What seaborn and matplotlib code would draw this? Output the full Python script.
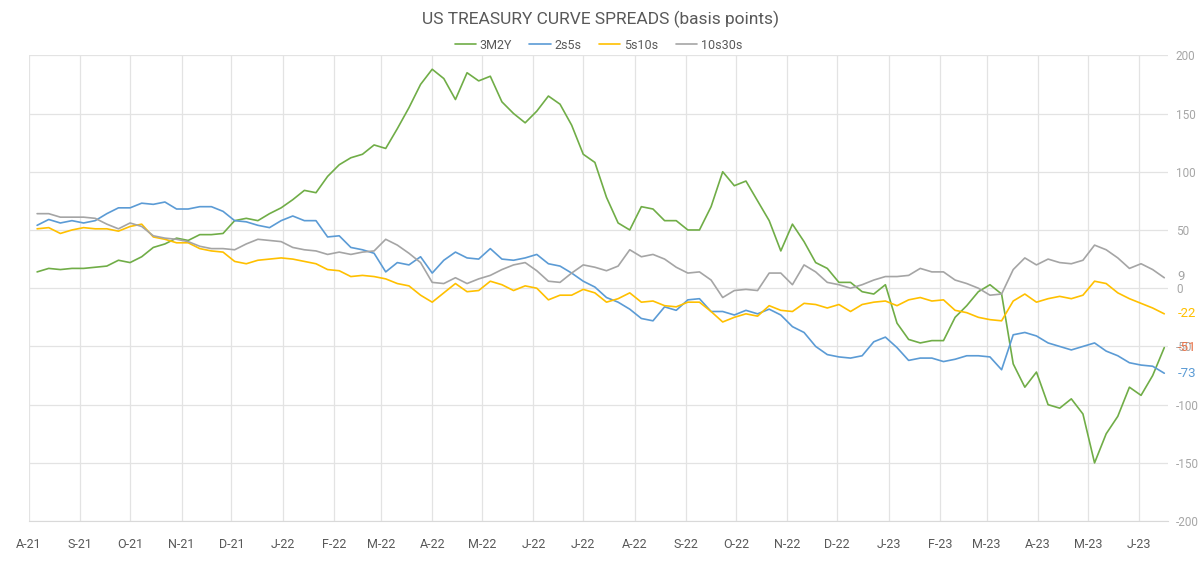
import numpy as np
import pandas as pd
import matplotlib
matplotlib.use("Agg")
import matplotlib.pyplot as plt
import matplotlib.dates as mdates
from matplotlib.ticker import FuncFormatter
import seaborn as sns

# weekly readings (Fridays), Aug 2021 - Jun 2023, in basis points
dates = pd.date_range("2021-08-06", periods=98, freq="7D")

s3m2y = [14, 17, 16, 17, 17, 18, 19, 24, 22, 27,
         35, 38, 43, 41, 46, 46, 47, 58, 60, 58,
         64, 69, 76, 84, 82, 96, 106, 112, 115, 123,
         120, 137, 155, 175, 188, 180, 162, 185, 178, 182,
         160, 150, 142, 152, 165, 158, 140, 115, 108, 78,
         56, 50, 70, 68, 58, 58, 50, 50, 70, 100,
         88, 92, 75, 58, 32, 55, 40, 22, 17, 5,
         5, -3, -5, 3, -30, -44, -47, -45, -45, -25,
         -15, -3, 3, -5, -65, -85, -72, -100, -103, -95,
         -108, -150, -125, -110, -85, -92, -75, -51]

s2s5s = [54, 59, 56, 58, 56, 58, 64, 69, 69, 73,
         72, 74, 68, 68, 70, 70, 66, 58, 57, 54,
         52, 58, 62, 58, 58, 44, 45, 35, 33, 30,
         14, 22, 20, 27, 13, 24, 31, 26, 25, 34,
         25, 24, 26, 29, 21, 19, 13, 6, 1, -8,
         -12, -18, -26, -28, -16, -19, -10, -9, -20, -20,
         -23, -19, -22, -18, -23, -33, -38, -50, -57, -59,
         -60, -58, -46, -42, -51, -62, -60, -60, -63, -61,
         -58, -58, -59, -70, -40, -38, -41, -47, -50, -53,
         -50, -47, -54, -58, -64, -66, -67, -73]

s5s10s = [51, 52, 47, 50, 52, 51, 51, 49, 53, 55,
          44, 42, 39, 39, 34, 32, 31, 23, 21, 24,
          25, 26, 25, 23, 21, 16, 15, 10, 11, 10,
          8, 4, 2, -6, -12, -4, 4, -3, -2, 6,
          3, -2, 2, 0, -10, -6, -6, -1, -4, -12,
          -9, -4, -12, -11, -15, -16, -12, -12, -20, -29,
          -25, -22, -24, -15, -19, -20, -13, -14, -17, -14,
          -20, -14, -12, -11, -15, -10, -8, -11, -10, -19,
          -21, -25, -27, -28, -11, -5, -12, -9, -7, -9,
          -6, 6, 4, -4, -9, -13, -17, -22]

s10s30s = [64, 64, 61, 61, 61, 60, 55, 51, 56, 53,
           45, 43, 42, 40, 36, 34, 34, 33, 38, 42,
           41, 40, 35, 33, 32, 29, 31, 29, 31, 32,
           42, 37, 30, 22, 5, 4, 9, 4, 8, 11,
           16, 20, 22, 15, 6, 5, 13, 20, 18, 15,
           19, 33, 27, 29, 25, 18, 13, 14, 7, -8,
           -2, -1, -2, 13, 13, 3, 20, 14, 5, 3,
           0, 3, 7, 10, 10, 11, 17, 14, 14, 7,
           4, 0, -6, -5, 16, 26, 20, 25, 22, 21,
           24, 37, 33, 26, 17, 21, 16, 9]

series_names = ["3M2Y", "2s5s", "5s10s", "10s30s"]
colors = ["#70AD47", "#5B9BD5", "#FFC000", "#A5A5A5"]
label_colors = ["#E8744A", "#5B9BD5", "#FFC000", "#A5A5A5"]

df = pd.DataFrame({"date": dates, "3M2Y": s3m2y, "2s5s": s2s5s,
                   "5s10s": s5s10s, "10s30s": s10s30s})
long = df.melt(id_vars="date", var_name="spread", value_name="bp")

sns.set_style("white")
plt.rcParams["font.family"] = ["Roboto", "DejaVu Sans"]
plt.rcParams["axes.unicode_minus"] = False

fig = plt.figure(figsize=(12, 5.64), dpi=100)
ax = fig.add_axes([0.024, 0.076, 0.949, 0.826])

sns.lineplot(data=long, x="date", y="bp", hue="spread", hue_order=series_names,
             palette=dict(zip(series_names, colors)), linewidth=1.2, ax=ax)

ax.set_xlim(pd.Timestamp("2021-08-01"), pd.Timestamp("2023-06-18"))
ax.set_ylim(-200, 200)
ax.set_yticks(np.arange(-200, 201, 50))
ax.yaxis.tick_right()
ax.set_xlabel("")
ax.set_ylabel("")

ax.xaxis.set_major_locator(mdates.MonthLocator())
ax.xaxis.set_major_formatter(FuncFormatter(
    lambda v, p: mdates.num2date(v).strftime("%b")[0] + "-" + mdates.num2date(v).strftime("%y")))

ax.grid(True, color="#e3e3e3", linewidth=0.9)
for side in ["top", "left", "right"]:
    ax.spines[side].set_visible(False)
ax.spines["bottom"].set_color("#d9d9d9")
ax.tick_params(axis="x", length=0, pad=12, labelsize=9, labelcolor="#595959")
ax.tick_params(axis="y", length=0, pad=6, labelsize=8.5, labelcolor="#a6a6a6")
for t in ax.get_yticklabels():
    t.set_horizontalalignment("left")

# last-value labels on the right
last_vals = [s3m2y[-1], s2s5s[-1], s5s10s[-1], s10s30s[-1]]
for v, c in zip(last_vals, label_colors):
    ax.annotate(f"{v:d}", xy=(1.0, v), xycoords=("axes fraction", "data"),
                xytext=(7, 1 if v > 0 else 0), textcoords="offset points",
                ha="left", va="center", fontsize=9.5, color=c)

leg = ax.legend(loc="center", bbox_to_anchor=(0.5, 1.022), ncol=4, frameon=False,
                fontsize=9, handlelength=1.7, columnspacing=1.4, handletextpad=0.3)
for txt in leg.get_texts():
    txt.set_color("#595959")

fig.text(0.5, 0.966, "US TREASURY CURVE SPREADS (basis points)", ha="center", va="center",
         fontsize=12.5, color="#595959")

fig.savefig("out.png", dpi=100, facecolor="white")
